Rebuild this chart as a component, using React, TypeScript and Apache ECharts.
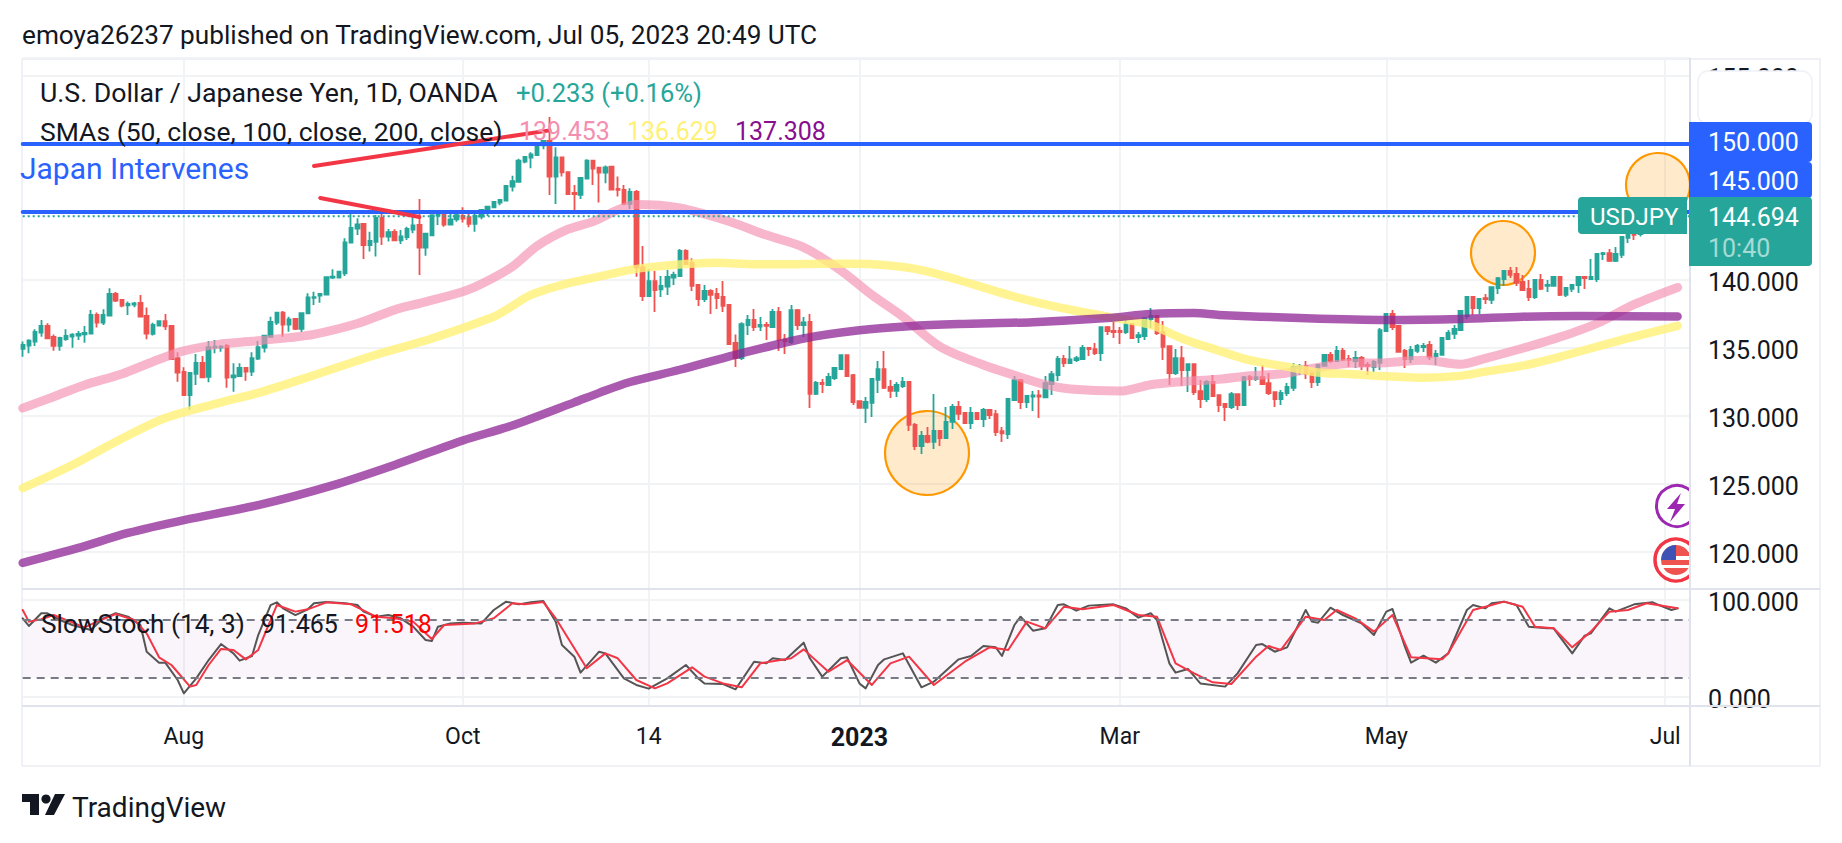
import React, { useEffect, useRef } from "react";
import * as echarts from "echarts";

const FONT = "Roboto";
const BAR_SLOTS = 270;
const tickLabels: Record<number, string> = { 26: "Aug", 71: "Oct", 101: "14", 135: "2023", 177: "Mar", 220: "May", 265: "Jul" };

// [open, close, low, high]
const candles: number[][] = [
[134.93,135.22,134.36,135.47],[135.17,135.54,134.61,135.64],[135.47,136.18,135.15,136.37],[136.13,136.62,135.83,137.06],[136.62,135.71,135.64,136.81],[135.81,135.15,134.80,136.00],[135.15,135.74,134.80,135.83],[135.66,135.88,135.54,136.37],[135.83,135.98,135.02,136.08],[135.91,136.03,135.59,136.25],
[136.00,136.10,135.39,136.62],[136.05,137.43,136.05,137.79],[137.43,136.86,136.50,137.60],[136.86,137.43,136.69,137.84],[137.38,138.97,137.38,139.39],[138.97,138.48,138.38,139.12],[138.53,138.11,137.99,138.60],[138.14,138.24,137.43,138.41],[138.19,138.28,137.99,138.38],[138.31,137.30,137.30,138.90],
[137.35,136.05,135.64,137.97],[136.03,136.69,135.91,136.86],[136.64,136.98,136.62,137.01],[136.98,136.59,136.32,137.50],[136.62,134.19,134.19,136.62],[134.26,133.19,132.52,134.68],[133.24,131.54,131.54,133.58],[131.54,133.16,130.44,133.16],[133.09,133.90,132.28,134.56],[133.90,132.84,132.77,134.41],
[132.87,135.07,132.48,135.51],[135.02,135.10,134.61,135.59],[135.02,135.10,134.73,135.20],[135.15,132.82,132.08,135.29],[132.84,132.99,131.79,133.87],[132.94,133.53,132.89,133.87],[133.53,133.26,132.60,133.58],[133.26,134.26,132.94,134.68],[134.22,135.07,134.12,135.51],[135.02,135.91,134.66,135.96],
[135.81,136.91,135.76,137.30],[136.86,137.60,136.69,137.67],[137.60,136.72,135.83,137.72],[136.72,137.11,136.20,137.30],[137.13,136.40,136.32,137.13],[136.40,137.57,136.18,137.57],[137.55,138.72,137.55,139.02],[138.68,138.73,138.16,139.14],[138.85,138.97,138.33,139.02],[138.92,140.20,138.92,140.20],
[140.17,140.25,140.07,140.78],[140.17,140.61,140.10,140.68],[140.49,142.77,140.30,143.06],[142.75,143.82,142.75,145.02],[143.78,144.09,143.31,144.54],[144.12,142.57,141.54,144.12],[142.57,142.87,142.09,143.55],[142.80,144.56,141.72,144.78],[144.56,143.19,142.57,145.02],[143.19,143.51,142.82,143.75],
[143.53,142.92,142.87,143.73],[142.92,143.21,142.65,143.68],[143.16,143.75,142.94,143.92],[143.70,144.02,143.43,144.71],[144.05,142.38,140.37,145.96],[142.38,143.41,141.79,143.41],[143.29,144.76,143.24,144.76],[144.73,144.80,144.04,144.95],[144.85,144.07,143.92,144.90],[144.07,144.46,144.02,144.90],
[144.46,144.76,144.29,144.85],[144.71,144.51,144.22,145.34],[144.61,144.12,143.87,144.90],[144.12,144.73,143.55,145.15],[144.66,145.15,144.46,145.15],[145.02,145.39,144.71,145.44],[145.34,145.74,145.29,145.81],[145.69,145.88,145.49,145.96],[145.83,146.91,145.81,146.91],[146.86,147.26,146.50,147.67],
[147.21,148.78,147.16,148.92],[148.70,149.05,148.58,149.12],[149.00,149.24,148.21,149.39],[149.19,149.90,149.12,149.90],[149.90,150.22,149.61,150.29],[150.22,147.60,146.25,151.99],[147.60,149.02,145.59,149.76],[149.02,147.92,147.60,149.07],[147.92,146.32,146.32,147.92],[146.40,146.32,145.15,146.99],
[146.25,147.50,145.96,147.50],[147.45,148.78,147.45,148.87],[148.78,148.19,146.99,148.78],[148.26,147.89,145.69,148.33],[147.89,148.28,147.11,148.41],[148.33,146.64,146.64,148.33],[146.69,146.62,146.13,147.60],[146.62,145.59,145.51,146.99],[145.59,146.47,145.22,146.74],[146.47,140.93,140.24,146.62],
[140.93,138.82,138.45,142.50],[138.82,139.92,138.82,140.78],[139.92,139.26,137.65,140.66],[139.31,139.56,138.75,140.29],[139.51,140.22,138.90,140.73],[140.17,140.37,139.63,140.61],[140.29,142.13,140.22,142.28],[142.13,141.17,141.10,142.25],[141.25,139.56,139.19,141.59],[139.63,138.60,138.09,139.63],
[138.60,139.19,138.38,139.63],[139.19,138.90,137.50,139.31],[138.97,138.67,137.87,139.41],[138.75,138.09,137.65,139.92],[138.16,135.29,135.22,138.16],[135.37,134.26,133.60,136.00],[134.26,136.76,134.12,136.89],[136.69,137.06,135.95,137.42],[137.06,136.54,136.25,137.87],[136.57,136.69,136.25,137.28],
[136.69,136.62,135.59,136.91],[136.54,137.65,136.54,137.87],[137.65,135.59,134.78,138.01],[135.64,135.51,134.56,136.03],[135.44,137.79,135.29,138.16],[137.79,136.69,136.32,137.87],[136.69,136.89,135.81,137.28],[136.91,131.62,130.59,137.50],[131.62,132.43,131.54,132.57],[132.43,132.35,131.69,132.72],
[132.28,132.87,132.20,133.16],[132.79,133.53,132.65,133.60],[133.45,134.48,133.38,134.48],[134.48,132.94,132.87,134.48],[133.01,131.03,130.81,133.09],[131.10,130.59,130.59,131.10],[130.59,131.03,129.48,131.40],[130.96,132.72,129.92,132.72],[132.65,133.45,131.69,134.04],[133.45,132.06,131.98,134.78],
[132.13,131.84,131.32,132.65],[131.84,132.28,131.40,132.50],[132.20,132.50,132.06,132.87],[132.50,129.34,128.90,132.50],[129.34,127.79,127.50,129.48],[127.79,128.53,127.20,128.90],[128.53,128.09,127.99,129.19],[128.09,128.90,127.57,131.62],[128.90,128.38,127.79,128.90],[128.38,129.56,128.38,130.66],
[129.56,130.66,129.04,130.88],[130.66,130.15,129.70,131.10],[130.22,129.48,129.41,130.22],[129.48,130.22,129.04,130.66],[130.22,129.78,129.70,130.29],[129.78,130.44,129.19,130.58],[130.44,130.07,129.78,130.51],[130.14,128.82,128.53,130.44],[128.89,128.72,128.08,129.19],[128.67,131.25,128.31,131.25],
[131.17,132.64,131.17,132.94],[132.64,131.03,130.51,132.72],[131.03,131.47,130.58,131.54],[131.42,131.52,130.36,131.83],[131.52,131.42,129.85,131.91],[131.37,132.42,131.32,132.94],[132.35,133.08,131.54,133.30],[133.01,134.19,132.57,134.41],[134.19,133.89,133.60,134.48],[133.89,134.16,133.89,135.14],
[134.11,134.26,133.97,134.41],[134.19,135.00,134.19,135.22],[135.00,134.92,134.41,135.07],[134.92,134.63,134.48,135.36],[134.63,136.54,134.04,136.54],[136.54,136.25,135.95,136.61],[136.25,136.17,135.73,136.91],[136.25,136.17,135.29,136.54],[136.17,136.76,136.03,137.13],[136.76,135.73,135.73,136.83],
[135.80,135.95,135.36,136.17],[135.88,137.20,135.58,137.20],[137.13,137.35,136.47,137.94],[137.35,136.10,135.95,137.35],[136.17,135.09,134.11,136.98],[135.14,133.16,132.28,135.14],[133.16,134.26,133.01,134.92],[134.26,133.38,132.20,135.14],[133.38,133.82,131.76,133.82],[133.82,131.76,131.54,133.82],
[131.83,131.25,130.58,132.64],[131.25,132.50,131.03,132.64],[132.50,131.47,131.47,133.01],[131.54,130.80,130.29,131.54],[130.88,130.66,129.63,130.95],[130.66,131.61,130.51,131.76],[131.61,130.80,130.44,131.61],[130.80,132.86,130.80,132.94],[132.86,132.72,132.20,133.01],[132.72,132.86,132.57,133.60],
[132.86,132.35,132.35,133.75],[132.42,131.69,131.54,133.16],[131.76,131.25,130.66,131.76],[131.25,131.69,130.80,131.91],[131.69,132.13,131.47,132.42],[132.06,133.60,131.84,133.90],[133.50,133.65,133.02,133.82],[133.68,133.09,132.72,134.04],[133.16,132.50,132.06,133.38],[132.50,133.75,132.20,133.82],
[133.68,134.49,133.68,134.56],[134.49,134.04,133.90,134.71],[134.04,134.78,133.97,135.15],[134.78,134.12,134.04,135.00],[134.19,134.12,133.60,134.49],[134.04,134.27,133.53,134.78],[134.27,133.68,133.38,134.41],[133.75,133.68,133.02,133.97],[133.60,133.97,133.24,134.12],[133.90,136.32,133.38,136.47],
[136.25,137.50,136.18,137.57],[137.50,136.54,136.32,137.79],[136.62,134.71,134.71,136.62],[134.78,134.19,133.53,134.93],[134.19,134.85,133.90,135.15],[134.78,135.15,134.63,135.30],[135.07,135.15,134.71,135.37],[135.22,134.34,134.12,135.52],[134.41,134.56,133.75,134.85],[134.49,135.74,134.49,135.74],
[135.66,136.10,135.66,136.32],[136.03,136.40,135.66,136.69],[136.32,137.72,136.32,137.72],[137.35,138.75,137.13,138.75],[138.75,137.94,137.42,138.75],[137.94,138.60,137.50,138.67],[138.67,138.60,138.23,138.97],[138.53,139.48,138.23,139.48],[139.41,140.14,138.97,140.22],[140.07,140.66,139.56,140.73],
[140.66,140.37,140.14,140.95],[140.44,139.78,139.56,140.95],[139.85,139.26,139.26,140.37],[139.34,138.75,138.45,140.00],[138.75,140.00,138.60,140.07],[140.00,139.34,139.26,140.44],[139.56,139.63,139.12,140.00],[139.56,140.22,139.56,140.29],[140.22,138.90,138.82,140.22],[138.90,139.41,138.75,139.41],
[139.34,139.63,139.12,139.70],[139.63,140.22,139.04,140.29],[140.22,140.14,139.34,140.29],[140.07,140.22,140.00,141.54],[140.07,141.91,139.85,141.91],[141.91,141.98,141.47,142.06],[141.98,141.40,141.32,142.28],[141.40,141.91,141.32,142.42],[141.84,143.16,141.62,143.23],[143.09,143.31,142.72,143.31],
[143.38,143.31,142.94,143.38],[143.38,143.55,143.20,143.80],[143.55,144.10,143.40,144.30],[144.10,144.50,143.90,144.80],[144.50,144.85,144.30,145.07],[144.85,144.30,144.10,145.00],[144.30,144.46,144.00,144.70],[144.46,144.694,144.30,144.80]
];

// [bar index, value] readings of each line
const sma50 = [[0,130.58],[5,131.42],[10,132.28],[16,133.09],[21,133.99],[26,134.78],[32,135.3],[37,135.49],[43,135.76],[47,136.0],[54,136.8],[60,137.8],[64,138.28],[71,139.14],[74,139.7],[79,140.98],[83,142.5],[88,143.73],[92,144.29],[96,145.15],[99,145.55],[106,145.3],[114,144.3],[120,143.3],[126,142.4],[132,140.7],[137,138.9],[142,137.3],[148,135.1],[155,133.75],[160,133.0],[165,132.3],[169,131.98],[177,131.83],[182,132.3],[187,132.52],[193,132.7],[198,132.96],[203,133.1],[208,133.5],[214,133.87],[220,133.92],[226,134.1],[232,133.8],[236,134.24],[242,134.98],[248,135.8],[254,136.8],[260,138.2],[267,139.45]];
const sma100 = [[0,124.7],[8,126.4],[15,128.1],[23,129.85],[32,131.0],[38,131.7],[47,133.0],[57,134.5],[66,135.7],[76,137.3],[78,137.8],[82,138.9],[88,139.76],[93,140.25],[98,140.74],[102,140.98],[107,141.17],[112,141.27],[118,141.15],[123,141.15],[129,141.2],[134,141.2],[139,141.1],[145,140.73],[151,140.0],[159,138.9],[167,138.0],[175,137.3],[182,136.7],[187,135.7],[193,134.8],[198,134.1],[204,133.62],[209,133.2],[214,133.09],[219,132.94],[226,132.82],[232,132.95],[236,133.26],[242,133.7],[248,134.35],[258,135.6],[267,136.63]];
const sma200 = [[0,119.2],[9,120.3],[17,121.4],[26,122.35],[38,123.45],[50,124.9],[60,126.4],[71,128.2],[79,129.3],[89,131.0],[93,131.7],[98,132.5],[106,133.4],[115,134.5],[126,135.7],[135,136.3],[143,136.6],[151,136.76],[163,136.9],[175,137.2],[182,137.5],[189,137.57],[193,137.43],[206,137.2],[220,137.06],[232,137.13],[242,137.3],[251,137.35],[267,137.31]];
const stochK = [[0,81.1],[1,73.2],[3,86.3],[4,86.3],[6,79.4],[8,74.2],[11,69.1],[13,81.1],[15,86.3],[17,82.8],[19,74.2],[20,46.7],[22,35.4],[23,35.4],[25,17.5],[26,3.8],[28,19.2],[30,38.1],[32,54.6],[34,45],[35,37.5],[37,42.3],[38,63.9],[40,94.8],[41,97.6],[42,91.4],[44,84.5],[46,90.4],[47,96.6],[49,97.9],[52,96.6],[54,94.8],[55,88],[57,82.8],[59,84.5],[61,81.1],[63,72.5],[65,58.8],[66,57.7],[67,72.5],[69,75.9],[71,76.6],[74,75.9],[76,89.7],[78,98.3],[80,95.5],[82,97.6],[84,99],[86,77.7],[87,53.6],[89,41.6],[90,25.1],[93,46.7],[94,45],[97,19.2],[99,12.4],[101,8.6],[104,19.2],[107,33],[109,19.2],[110,14],[113,13.4],[115,7.9],[118,36.4],[120,34.7],[121,39.9],[123,38.1],[126,56],[127,39.9],[129,21],[132,39.9],[133,40.9],[135,14],[136,8.9],[138,33],[139,38.8],[142,45],[145,10],[147,15.8],[151,38.8],[153,42.3],[155,52.6],[157,51.2],[158,42.3],[160,74.2],[161,82.8],[163,68.4],[165,70.8],[167,94.8],[168,95.5],[170,89],[172,94.2],[176,95.5],[178,91.4],[180,81.8],[182,86.3],[183,79.4],[185,34.7],[186,25.1],[188,28.9],[190,14],[194,10.7],[196,24.4],[199,53.6],[200,54.6],[202,46.7],[204,51.2],[207,89.7],[208,77.7],[209,76.6],[211,92.1],[213,84.5],[216,75.9],[218,63.9],[220,88],[221,90.7],[223,51.9],[224,35.4],[226,42.6],[228,35.4],[230,45],[233,89.7],[234,94.8],[236,91.4],[237,96.6],[239,98.3],[241,94.8],[243,72.5],[246,70.8],[247,70.8],[250,45],[252,63.2],[253,65.6],[256,91.4],[257,88],[260,95.5],[263,97.6],[264,94.8],[266,89.7],[267,91.465]];
const stochD = [[0,89.7],[1,77.7],[3,80.1],[5,84.5],[7,79.4],[10,71.8],[12,77.7],[15,85.6],[18,79.4],[20,65.6],[22,40.9],[24,33],[27,10.7],[28,12.4],[30,33],[32,49.5],[34,48.5],[36,38.8],[38,48.5],[41,94.8],[44,88],[46,90.4],[49,97.6],[53,95.5],[57,82.8],[60,81.1],[63,77.7],[66,59.8],[68,74.2],[73,75.9],[76,81.1],[79,96.6],[81,95.5],[84,97.9],[86,81.1],[89,50.2],[91,29.6],[94,45],[96,39.9],[99,17.5],[102,8.9],[104,14.1],[108,30.6],[110,21],[113,14],[116,10],[119,34.7],[124,39.9],[126,49.1],[130,26],[133,38.1],[137,12.4],[140,34.7],[143,41.6],[147,12.4],[152,36.4],[156,51.2],[159,48.5],[162,77.7],[165,70.8],[168,93.1],[171,90.4],[176,94.8],[180,84.5],[183,82.8],[186,34.7],[189,24.4],[192,15.1],[195,13.4],[199,41.6],[201,52.6],[203,48.5],[207,82.8],[210,79.4],[212,89.7],[215,81.1],[218,67.4],[221,84.5],[224,40.9],[229,38.8],[230,45],[234,89.7],[236,93.1],[239,98.3],[242,93.1],[244,72.5],[247,70.8],[250,51.2],[253,67.4],[256,88],[259,89.7],[262,96.6],[267,91.518]];
const levels = [150, 145];
const lastPrice = 144.694;
const trendUp = [[47,148.38],[85,151.0]];
const trendDown = [[48,146.03],[64,144.63]];

const DARK = "#131722", GREEN = "#26a69a", RED = "#ef5350", BLUE = "#2962FF", FRAME = "#EFF1F7", SEP = "#E0E3EB", GRID = "#F2F3F5";
const categories = Array.from({ length: BAR_SLOTS }, (_, i) => tickLabels[i] ?? "");
const isTick = (_: number, v: string) => v !== "";

const txt = (text: string, x: number, y: number, fill: string, size = 25, extra: any = {}) => ({
  type: "text", x, y, z: 60, silent: true,
  style: { text, fill, font: `${size}px ${FONT}`, verticalAlign: "middle", align: "left", ...extra },
});
const border = (x1: number, y1: number, x2: number, y2: number, stroke: string, lineWidth = 2, z = 1) => ({
  type: "line", z, silent: true, shape: { x1, y1, x2, y2 }, style: { stroke, lineWidth },
});
const orb = (cx: number, cy: number, r: number) => ({
  type: "circle", z: 1, silent: true, shape: { cx, cy, r }, style: { fill: "rgba(255,152,0,0.2)", stroke: "#FF9800", lineWidth: 2.2 },
});
const tag = (x: number, y: number, w: number, h: number, fill: string, r: any) => ({
  type: "rect", z: 50, silent: true, shape: { x, y, width: w, height: h, r }, style: { fill },
});

const graphicElements: any[] = [
  border(22, 59, 1820, 59, FRAME), border(22, 766, 1820, 766, FRAME), border(22, 58, 22, 766, FRAME), border(1820, 58, 1820, 766, FRAME),
  border(22, 589, 1820, 589, SEP), border(22, 706, 1820, 706, SEP),
  orb(927, 453, 42), orb(1503, 253, 32), orb(1658, 185, 32),
  // right-hand badges, cut by the price scale
  { type: "circle", z: 5, silent: true, shape: { cx: 1677, cy: 506, r: 20.5 }, style: { fill: "#fff", stroke: "#9C27B0", lineWidth: 3 } },
  { type: "polygon", z: 6, silent: true, shape: { points: [[1681,493],[1667,509],[1675,509],[1670,522],[1685,504],[1677,504]] }, style: { fill: "#9C27B0" } },
  { type: "circle", z: 5, silent: true, shape: { cx: 1676, cy: 560, r: 21 }, style: { fill: "#fff", stroke: "#F23645", lineWidth: 3.5 } },
  { type: "circle", z: 6, silent: true, shape: { cx: 1676, cy: 560, r: 15 }, style: { fill: "#EF5350" } },
  { type: "rect", z: 7, silent: true, shape: { x: 1661, y: 556, width: 30, height: 4 }, style: { fill: "#fff" } },
  { type: "rect", z: 7, silent: true, shape: { x: 1662, y: 565, width: 28, height: 3 }, style: { fill: "#fff" } },
  { type: "sector", z: 8, silent: true, shape: { cx: 1676, cy: 560, r0: 0, r: 15, startAngle: Math.PI, endAngle: Math.PI * 1.5 }, style: { fill: "#3F51B5" } },
  { type: "rect", z: 9, silent: true, shape: { x: 1691, y: 480, width: 14, height: 105 }, style: { fill: "#fff" } },
  border(1690, 58, 1690, 766, SEP, 2, 10),
  // header and legends
  txt("emoya26237 published on TradingView.com, Jul 05, 2023 20:49 UTC", 22, 35, DARK, 26.2),
  txt("U.S. Dollar / Japanese Yen, 1D, OANDA", 40, 93, DARK, 26.7),
  txt("+0.233 (+0.16%)", 516, 93, GREEN, 25.6),
  txt("SMAs (50, close, 100, close, 200, close)", 40, 131, DARK, 26.5),
  txt("139.453", 519, 131, "#F48FB1"),
  txt("136.629", 627, 131, "#FFF176"),
  txt("137.308", 735, 131, "#880E8F"),
  txt("Japan Intervenes", 20, 168, BLUE, 30),
  txt("SlowStoch (14, 3)", 41, 624, DARK, 26.2),
  txt("91.465", 261, 624, DARK),
  txt("91.518", 355, 624, "#FF0000"),
  // price scale tags
  { type: "rect", z: 49, silent: true, shape: { x: 1698, y: 71, width: 114, height: 53, r: 10 }, style: { fill: "#fff", stroke: "#EFF1F7", lineWidth: 1.5 } },
  tag(1689, 122, 123, 40, BLUE, [0, 4, 4, 0]),
  tag(1689, 162, 123, 36, BLUE, [0, 4, 4, 0]),
  tag(1689, 197, 123, 69, GREEN, [0, 4, 4, 0]),
  tag(1578, 197, 109, 37, GREEN, [4, 0, 0, 4]),
  txt("150.000", 1708, 142, "#fff"),
  txt("145.000", 1708, 181, "#fff"),
  txt("144.694", 1708, 217, "#fff"),
  txt("10:40", 1708, 248, "rgba(255,255,255,0.6)"),
  txt("USDJPY", 1590, 217, "#fff", 24),
  // brand
  { type: "polygon", z: 60, silent: true, shape: { points: [[22,794],[39,794],[39,815],[30,815],[30,802],[22,802]] }, style: { fill: DARK } },
  { type: "polygon", z: 60, silent: true, shape: { points: [[55,794],[65,794],[54,815],[45,815]] }, style: { fill: DARK } },
  { type: "circle", z: 60, silent: true, shape: { cx: 46, cy: 799, r: 4.6 }, style: { fill: DARK } },
  txt("TradingView", 72, 807, DARK, 28),
];

const lineSeries = (name: string, data: number[][], color: string, width: number, axis = 0, extra: any = {}) => ({
  name, type: "line", data, xAxisIndex: axis, yAxisIndex: axis, symbol: "none", silent: true,
  lineStyle: { color, width, cap: "round", join: "round" }, clip: true, ...extra,
});

const priceLabelRich = { p: { color: DARK, fontFamily: FONT, fontSize: 25, padding: [5, 0, 0, 0] } };

const option: any = {
  animation: false,
  backgroundColor: "#fff",
  graphic: { elements: graphicElements },
  grid: [
    { left: 22.7, width: 1667.3, top: 58, height: 531 },
    { left: 22.7, width: 1667.3, top: 589, height: 117 },
  ],
  xAxis: [0, 1].map((g) => ({
    type: "category", gridIndex: g, data: categories, boundaryGap: false,
    axisLine: { show: false }, axisTick: { show: false },
    splitLine: { show: true, interval: isTick, lineStyle: { color: GRID, width: 2 } },
    axisLabel: g === 0 ? { show: false } : {
      interval: isTick, margin: 19, color: DARK, fontFamily: FONT, fontSize: 23, hideOverlap: false,
      formatter: (v: string) => (v === "2023" ? `{b|${v}}` : v),
      rich: { b: { fontWeight: "bold", fontFamily: FONT, fontSize: 25, color: DARK } },
    },
  })),
  yAxis: [
    { type: "value", gridIndex: 0, position: "right", min: 117.28, max: 156.32, splitNumber: 8, scale: true,
      axisLine: { show: false }, axisTick: { show: false },
      splitLine: { show: true, lineStyle: { color: GRID, width: 2 } },
      axisLabel: { margin: 18, showMinLabel: false, showMaxLabel: false, rich: priceLabelRich,
        formatter: (v: number) => (v === 150 || v === 145 ? "" : `{p|${v.toFixed(3)}}`) } },
    { type: "value", gridIndex: 1, position: "right", min: -9.28, max: 111.34, splitNumber: 1, scale: true,
      axisLine: { show: false }, axisTick: { show: false },
      splitLine: { show: true, lineStyle: { color: GRID, width: 2 } },
      axisLabel: { margin: 18, showMinLabel: false, showMaxLabel: false, rich: priceLabelRich,
        formatter: (v: number) => `{p|${v.toFixed(3)}}` } },
  ],
  series: [
    lineSeries("SMA 50", sma50, "rgba(244,143,177,0.65)", 9, 0, { smooth: 0.3 }),
    lineSeries("SMA 100", sma100, "rgba(255,241,118,0.8)", 8.5, 0, { smooth: 0.3 }),
    lineSeries("SMA 200", sma200, "rgba(142,36,150,0.75)", 8.5, 0, { smooth: 0.3 }),
    ...levels.map((v) => lineSeries(`Level ${v}`, [[0, v], [BAR_SLOTS - 1, v]], BLUE, 4)),
    { type: "line", name: "Last price", data: [[0, lastPrice], [BAR_SLOTS - 1, lastPrice]], symbol: "none", silent: true,
      lineStyle: { color: GREEN, width: 2, type: [2, 3] } },
    { name: "USDJPY", type: "candlestick", data: candles, barWidth: 3.9, silent: true,
      itemStyle: { color: GREEN, color0: RED, borderColor: GREEN, borderColor0: RED, borderWidth: 1.8 } },
    lineSeries("Trend 1", trendUp, "#F23645", 4),
    lineSeries("Trend 2", trendDown, "#F23645", 4),
    { type: "line", xAxisIndex: 1, yAxisIndex: 1, data: [], silent: true, symbol: "none",
      markArea: { silent: true, itemStyle: { color: "rgba(156,39,176,0.05)" }, data: [[{ yAxis: 20 }, { yAxis: 80 }]] },
      markLine: { silent: true, symbol: "none", label: { show: false },
        lineStyle: { color: "#787B86", type: [8, 6], width: 2 }, data: [{ yAxis: 80 }, { yAxis: 20 }] } },
    lineSeries("%K", stochK, "#555555", 2, 1),
    lineSeries("%D", stochD, "#F23645", 2, 1),
  ],
};

export default function App() {
  const ref = useRef<HTMLDivElement>(null);
  useEffect(() => {
    const chart = echarts.init(ref.current!, undefined, { renderer: "svg" });
    chart.setOption(option);
    return () => chart.dispose();
  }, []);
  return <div ref={ref} style={{ position: "fixed", left: 0, top: 0, width: 1842, height: 843, background: "#fff" }} />;
}
